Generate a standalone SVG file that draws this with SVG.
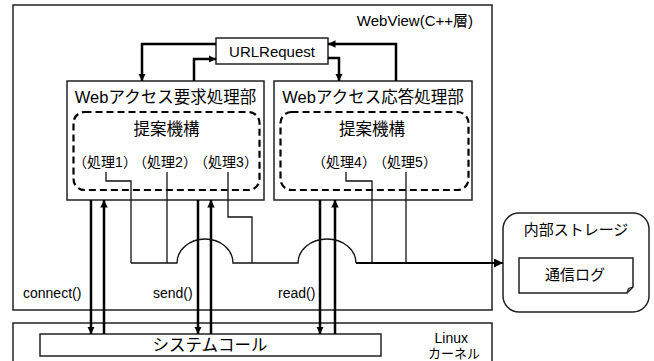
<svg xmlns="http://www.w3.org/2000/svg" width="654" height="361" viewBox="0 0 654 361">
  <style>
    text { font-family: "Liberation Sans", "Noto Sans CJK JP", sans-serif; fill: #000; }
    .box { fill: #fff; stroke: #222; stroke-width: 1.5; }
    .dash { fill: none; stroke: #000; stroke-width: 2.2; stroke-dasharray: 7 4; }
    .thick { fill: none; stroke: #000; stroke-width: 2.5; }
    .thin { fill: none; stroke: #111; stroke-width: 1.3; }
    .t17 { font-size: 16.5px; }
    .t15 { font-size: 15px; }
    .t13 { font-size: 13px; }
    .t14 { font-size: 14px; }
  </style>
  <defs>
    <marker id="ah" viewBox="0 0 10 10" refX="10" refY="5" markerWidth="3" markerHeight="3" orient="auto" markerUnits="strokeWidth">
      <path d="M0,0 L10,5 L0,10 Z" fill="#000"/>
    </marker>
    <marker id="ahs" viewBox="0 0 10 10" refX="10" refY="5" markerWidth="4.5" markerHeight="4.5" orient="auto" markerUnits="strokeWidth">
      <path d="M0,0 L10,5 L0,10 Z" fill="#000"/>
    </marker>
  </defs>

  <rect width="654" height="361" fill="#fff"/>

  <!-- WebView layer -->
  <g id="webview">
    <rect class="box" x="13" y="5" width="479" height="305"/>
    <text class="t15" x="473" y="26" text-anchor="end">WebView(C++層)</text>
  </g>

  <!-- Linux kernel -->
  <g id="kernel">
    <rect class="box" x="13" y="323" width="479" height="45"/>
    <text class="t14" x="468" y="343" text-anchor="end">Linux</text>
    <text class="t13" x="480" y="358" text-anchor="end">カーネル</text>
  </g>

  <g id="syscall">
    <rect class="box" x="40" y="334" width="341" height="22"/>
    <text class="t17" x="210" y="351" text-anchor="middle">システムコール</text>
  </g>

  <g id="urlrequest">
    <rect class="box" x="216" y="38" width="112" height="26"/>
    <text class="t15" x="272" y="57" text-anchor="middle">URLRequest</text>
  </g>

  <g id="request-unit">
    <rect class="box" x="67" y="81" width="197" height="119"/>
    <text class="t17" x="165.5" y="103" text-anchor="middle">Webアクセス要求処理部</text>
    <rect class="dash" x="73.5" y="112" width="186" height="78" rx="11"/>
    <text class="t17" x="166.5" y="135" text-anchor="middle">提案機構</text>
    <text class="t14" x="105" y="167" text-anchor="middle">（処理1）</text>
    <text class="t14" x="165" y="167" text-anchor="middle">（処理2）</text>
    <text class="t14" x="226" y="167" text-anchor="middle">（処理3）</text>
  </g>

  <g id="response-unit">
    <rect class="box" x="274" y="81" width="198" height="119"/>
    <text class="t17" x="373" y="103" text-anchor="middle">Webアクセス応答処理部</text>
    <rect class="dash" x="280.5" y="112" width="188" height="78" rx="11"/>
    <text class="t17" x="372" y="135" text-anchor="middle">提案機構</text>
    <text class="t14" x="344" y="167" text-anchor="middle">（処理4）</text>
    <text class="t14" x="405" y="167" text-anchor="middle">（処理5）</text>
  </g>

  <g id="storage">
    <rect class="box" x="503" y="213" width="146" height="99" rx="16"/>
    <text class="t15" x="576" y="235" text-anchor="middle">内部ストレージ</text>
    <g id="comm-log">
      <path class="box" d="M519,258 H633 V287 L627,293 H519 Z"/>
      <path d="M627,293 L628.5,288.5 L633,287" fill="none" stroke="#222" stroke-width="1.2"/>
      <text class="t15" x="575" y="280" text-anchor="middle">通信ログ</text>
    </g>
  </g>

  <!-- connectors -->
  <g id="connectors">
    <!-- URLRequest exchange -->
    <path class="thick" d="M194,81 V59 H216" marker-end="url(#ah)"/>
    <path class="thick" d="M216,44 H142 V81" marker-end="url(#ah)"/>
    <path class="thick" d="M396,81 V44 H328" marker-end="url(#ah)"/>
    <path class="thick" d="M328,58 H339 V81" marker-end="url(#ah)"/>

    <!-- system calls -->
    <path class="thick" d="M91,200 V334" marker-end="url(#ah)"/>
    <path class="thick" d="M104,334 V200" marker-end="url(#ah)"/>
    <path class="thick" d="M198,200 V334" marker-end="url(#ah)"/>
    <path class="thick" d="M211,334 V200" marker-end="url(#ah)"/>
    <path class="thick" d="M320,200 V334" marker-end="url(#ah)"/>
    <path class="thick" d="M335,334 V200" marker-end="url(#ah)"/>
    <text class="t14" x="23" y="298">connect()</text>
    <text class="t14" x="153" y="298">send()</text>
    <text class="t14" x="278" y="298">read()</text>

    <!-- log collection lines -->
    <path class="thin" d="M106,172 V181 H131 V263"/>
    <path class="thin" d="M167,172 V263"/>
    <path class="thin" d="M228,172 V217 H252 V263"/>
    <path class="thin" d="M346,172 V181 H372 V263"/>
    <path class="thin" d="M406,172 V263"/>
    <path class="thin" d="M131,263 H177 A28,24 0 0 1 233,263 H298 A29,24 0 0 1 356,263"/>
    <path d="M356,263 H503" fill="none" stroke="#000" stroke-width="2" marker-end="url(#ahs)"/>
  </g>
</svg>
